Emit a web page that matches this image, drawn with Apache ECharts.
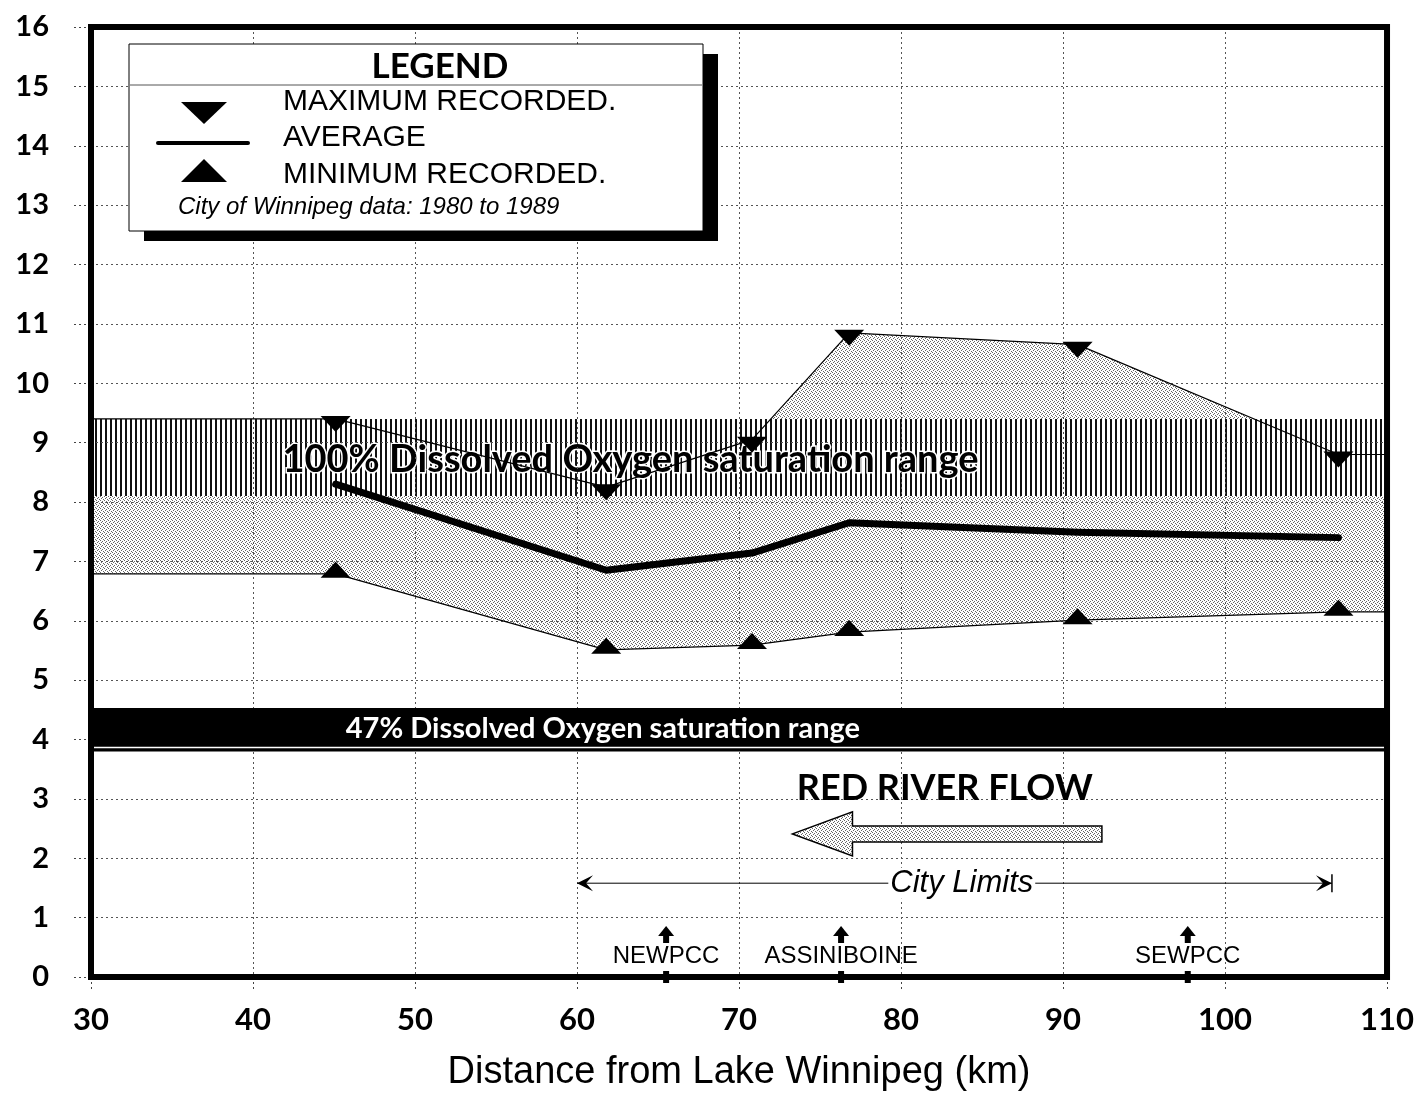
<!DOCTYPE html>
<html>
<head>
<meta charset="utf-8">
<script src="https://cdn.jsdelivr.net/npm/echarts@6/dist/echarts.min.js"></script>
<style>
  html, body { margin: 0; padding: 0; background: #fff; }
  #main { width: 1417px; height: 1097px; }
</style>
</head>
<body>
<div id="main"></div>
<script>
// sampling stations, km from Lake Winnipeg
var stations = [45.1, 61.8, 70.8, 76.8, 90.9, 107.0];
// dissolved oxygen (mg/L)
var maxDO = [9.40, 8.25, 9.05, 10.85, 10.65, 8.80];
var avgDO = [8.30, 6.85, 7.14, 7.65, 7.49, 7.40];
var minDO = [6.79, 5.51, 5.59, 5.81, 6.01, 6.15];
// saturation ranges [low, high]
var sat100 = [8.1, 9.4];
var sat47 = [3.8, 4.53];
// axis ticks
var xTicks = [30, 40, 50, 60, 70, 80, 90, 100, 110];
var yTicks = [0, 1, 2, 3, 4, 5, 6, 7, 8, 9, 10, 11, 12, 13, 14, 15, 16];
// outfalls along the river
var outfallNames = ['NEWPCC', 'ASSINIBOINE', 'SEWPCC'];
var outfallKm = [65.5, 76.3, 97.7];
// city limits, flow arrow (km)
var cityLimits = [60, 106.6];
var flowArrow = [73.3, 92.4];

(function () {
  var xMin = xTicks[0], xMax = xTicks[xTicks.length - 1];
  var BOLD = 'Lato';
  var PLAIN = 'Liberation Sans';

  // 点状填充
  function stipple() {
    var c = document.createElement('canvas');
    c.width = 4; c.height = 4;
    var g = c.getContext('2d');
    g.fillStyle = '#fff'; g.fillRect(0, 0, 4, 4);
    g.fillStyle = '#666';
    [[0, 0], [2, 1], [1, 2], [3, 3]].forEach(function (p) { g.fillRect(p[0], p[1], 1, 1); });
    return { image: c, repeat: 'repeat' };
  }
  // 竖线填充
  function hatch() {
    var c = document.createElement('canvas');
    c.width = 5; c.height = 5;
    var g = c.getContext('2d');
    g.fillStyle = '#fff'; g.fillRect(0, 0, 5, 5);
    g.fillStyle = '#111'; g.fillRect(0, 0, 2, 5);
    return { image: c, repeat: 'repeat' };
  }
  var dots = stipple();
  var lines = hatch();

  var maxPts = stations.map(function (x, i) { return [x, maxDO[i]]; });
  var avgPts = stations.map(function (x, i) { return [x, avgDO[i]]; });
  var minPts = stations.map(function (x, i) { return [x, minDO[i]]; });
  var last = stations.length - 1;
  var maxLine = [[xMin, maxDO[0]]].concat(maxPts, [[xMax, maxDO[last]]]);
  var minLine = [[xMin, minDO[0]]].concat(minPts, [[xMax, minDO[last]]]);

  var myChart = echarts.init(document.getElementById('main'));
  var option = {
    animation: false,
    backgroundColor: '#fff',
    grid: {
      left: 91, right: 25, top: 27, bottom: 120,
      show: true,
      backgroundColor: 'transparent',
      borderColor: '#000',
      borderWidth: 6,
      z: 10
    },
    xAxis: {
      type: 'value',
      min: xMin, max: xMax, interval: 10,
      z: 1,
      axisLine: { show: false },
      axisTick: { show: true, length: 12, lineStyle: { color: '#444', type: [2, 3] } },
      splitLine: { show: true, lineStyle: { color: '#555', width: 1, type: [2, 3] } },
      axisLabel: { color: '#000', fontSize: 31, fontWeight: 'bold', fontFamily: BOLD, margin: 27 },
      name: 'Distance from Lake Winnipeg (km)',
      nameLocation: 'middle',
      nameGap: 77,
      nameTextStyle: { color: '#000', fontSize: 38, fontFamily: PLAIN }
    },
    yAxis: {
      type: 'value',
      min: yTicks[0], max: yTicks[yTicks.length - 1], interval: 1,
      z: 1,
      axisLine: { show: false },
      axisTick: { show: true, length: 18, lineStyle: { color: '#444', type: [2, 3] } },
      splitLine: { show: true, lineStyle: { color: '#555', width: 1, type: [2, 3] } },
      axisLabel: { color: '#000', fontSize: 29, fontWeight: 'bold', fontFamily: BOLD, margin: 42 }
    },
    series: [
      // 最大与最小之间的点状区域
      {
        type: 'custom', z: 0, silent: true,
        data: [[xMin, 0]],
        renderItem: function (params, api) {
          var top = maxLine.map(function (p) { return api.coord(p); });
          var bottom = minLine.slice().reverse().map(function (p) { return api.coord(p); });
          return { type: 'polygon', shape: { points: top.concat(bottom) }, style: { fill: dots } };
        }
      },
      // 100% 饱和范围
      {
        type: 'custom', z: 0, silent: true,
        data: [[xMin, 0]],
        renderItem: function (params, api) {
          var a = api.coord([xMin, sat100[1]]);
          var b = api.coord([xMax, sat100[0]]);
          var t = api.coord([63.3, (sat100[0] + sat100[1]) / 2]);
          return {
            type: 'group',
            children: [
              { type: 'rect', shape: { x: a[0], y: a[1], width: b[0] - a[0], height: b[1] - a[1] }, style: { fill: lines } },
              { type: 'text', z2: 5, style: {
                text: '100% Dissolved Oxygen saturation range', x: t[0], y: t[1] + 2,
                align: 'center', verticalAlign: 'middle',
                fontSize: 38, fontWeight: 'bold', fontFamily: BOLD,
                fill: '#000', stroke: '#fff', lineWidth: 3
              } }
            ]
          };
        }
      },
      {
        name: 'MAXIMUM RECORDED.', type: 'line', data: maxLine, z: 2, silent: true,
        showSymbol: false, lineStyle: { color: '#000', width: 1.2 }
      },
      {
        name: 'MINIMUM RECORDED.', type: 'line', data: minLine, z: 2, silent: true,
        showSymbol: false, lineStyle: { color: '#000', width: 1.2 }
      },
      {
        name: 'AVERAGE', type: 'line', data: avgPts, z: 3, silent: true,
        showSymbol: false, lineStyle: { color: '#000', width: 7, cap: 'round', join: 'round' }
      },
      {
        type: 'scatter', data: maxPts, z: 4, silent: true,
        symbol: 'triangle', symbolRotate: 180, symbolSize: [30, 16], symbolOffset: [0, 5],
        itemStyle: { color: '#000', opacity: 1 }
      },
      {
        type: 'scatter', data: minPts, z: 4, silent: true,
        symbol: 'triangle', symbolSize: [30, 16], symbolOffset: [0, -4],
        itemStyle: { color: '#000', opacity: 1 }
      },
      // 47% 饱和范围
      {
        type: 'custom', z: 5, silent: true,
        data: [[xMin, 0]],
        renderItem: function (params, api) {
          var a = api.coord([xMin, sat47[1]]);
          var b = api.coord([xMax, sat47[0]]);
          var t = api.coord([61.6, (sat47[0] + sat47[1]) / 2]);
          return {
            type: 'group',
            children: [
              { type: 'rect', shape: { x: a[0], y: a[1], width: b[0] - a[0], height: b[1] - a[1] }, style: { fill: '#000' } },
              { type: 'line', shape: { x1: a[0], y1: b[1] - 4, x2: b[0], y2: b[1] - 4 }, style: { stroke: '#fff', lineWidth: 1.5 } },
              { type: 'text', z2: 5, style: {
                text: '47% Dissolved Oxygen saturation range', x: t[0], y: t[1] - 1,
                align: 'center', verticalAlign: 'middle',
                fontSize: 29, fontWeight: 'bold', fontFamily: BOLD, fill: '#fff'
              } }
            ]
          };
        }
      },
      // 河流方向与城市范围
      {
        type: 'custom', z: 5, silent: true,
        data: [[xMin, 0]],
        renderItem: function (params, api) {
          var title = api.coord([82.7, 3.17]);
          var tip = api.coord([flowArrow[0], 2.41]);
          var tail = api.coord([flowArrow[1], 2.41]);
          var cy = tip[1], hx = tip[0] + 60;
          var c0 = api.coord([cityLimits[0], 1.58]);
          var c1 = api.coord([cityLimits[1], 1.58]);
          var lbl = api.coord([83.75, 1.58]);
          return {
            type: 'group',
            children: [
              { type: 'text', style: {
                text: 'RED RIVER FLOW', x: title[0], y: title[1],
                align: 'center', verticalAlign: 'middle',
                fontSize: 36, fontWeight: 'bold', fontFamily: BOLD, fill: '#000'
              } },
              { type: 'polygon', shape: { points: [
                [tip[0], cy], [hx, cy - 22], [hx, cy - 8], [tail[0], cy - 8],
                [tail[0], cy + 8], [hx, cy + 8], [hx, cy + 22]
              ] }, style: { fill: dots, stroke: '#000', lineWidth: 1.5 } },
              { type: 'line', shape: { x1: c0[0], y1: c0[1], x2: c1[0], y2: c1[1] }, style: { stroke: '#000', lineWidth: 1 } },
              { type: 'polygon', shape: { points: [[c0[0], c0[1]], [c0[0] + 16, c0[1] - 8], [c0[0] + 9, c0[1]], [c0[0] + 16, c0[1] + 8]] }, style: { fill: '#000' } },
              { type: 'polygon', shape: { points: [[c1[0], c1[1]], [c1[0] - 16, c1[1] - 8], [c1[0] - 9, c1[1]], [c1[0] - 16, c1[1] + 8]] }, style: { fill: '#000' } },
              { type: 'line', shape: { x1: c1[0], y1: c1[1] - 9, x2: c1[0], y2: c1[1] + 9 }, style: { stroke: '#000', lineWidth: 1.5 } },
              { type: 'text', style: {
                text: 'City Limits', x: lbl[0], y: lbl[1],
                align: 'center', verticalAlign: 'middle',
                fontSize: 31, fontStyle: 'italic', fontFamily: PLAIN, fill: '#000',
                backgroundColor: '#fff', padding: [0, 2]
              } }
            ]
          };
        }
      },
      // 污水厂位置
      {
        type: 'custom', z: 5, silent: true,
        data: outfallKm.map(function (km, i) { return [km, 0, i]; }),
        renderItem: function (params, api) {
          var p = api.coord([api.value(0), 0]);
          var x = p[0], y = p[1];
          return {
            type: 'group',
            children: [
              { type: 'polygon', shape: { points: [[x, y - 51], [x + 8, y - 41], [x - 8, y - 41]] }, style: { fill: '#000' } },
              { type: 'rect', shape: { x: x - 3, y: y - 42, width: 6, height: 8 }, style: { fill: '#000' } },
              { type: 'rect', shape: { x: x - 3, y: y - 6, width: 6, height: 12 }, style: { fill: '#000' } },
              { type: 'text', style: {
                text: outfallNames[api.value(2)], x: x, y: y - 21,
                align: 'center', verticalAlign: 'middle',
                fontSize: 24, fontFamily: PLAIN, fill: '#000'
              } }
            ]
          };
        }
      }
    ],
    // 图例框
    graphic: [
      { type: 'rect', z: 20, shape: { x: 144, y: 54, width: 574, height: 187 }, style: { fill: '#000' } },
      { type: 'rect', z: 21, shape: { x: 129, y: 44, width: 574, height: 187 }, style: { fill: '#fff', stroke: '#000', lineWidth: 1 } },
      { type: 'line', z: 22, shape: { x1: 130, y1: 85, x2: 702, y2: 85 }, style: { stroke: '#555', lineWidth: 1 } },
      { type: 'text', z: 22, style: { text: 'LEGEND', x: 440, y: 67, align: 'center', verticalAlign: 'middle', fontSize: 35, fontWeight: 'bold', fontFamily: BOLD, fill: '#000' } },
      { type: 'polygon', z: 22, shape: { points: [[181, 102], [227, 102], [204, 124]] }, style: { fill: '#000' } },
      { type: 'line', z: 22, shape: { x1: 158, y1: 143, x2: 248, y2: 143 }, style: { stroke: '#000', lineWidth: 4, lineCap: 'round' } },
      { type: 'polygon', z: 22, shape: { points: [[181, 182], [227, 182], [204, 159]] }, style: { fill: '#000' } },
      { type: 'text', z: 22, style: { text: 'MAXIMUM RECORDED.', x: 283, y: 102, verticalAlign: 'middle', fontSize: 30, fontFamily: PLAIN, fill: '#000' } },
      { type: 'text', z: 22, style: { text: 'AVERAGE', x: 283, y: 138, verticalAlign: 'middle', fontSize: 30, fontFamily: PLAIN, fill: '#000' } },
      { type: 'text', z: 22, style: { text: 'MINIMUM RECORDED.', x: 283, y: 175, verticalAlign: 'middle', fontSize: 30, fontFamily: PLAIN, fill: '#000' } },
      { type: 'text', z: 22, style: { text: 'City of Winnipeg data: 1980 to 1989', x: 178, y: 207, verticalAlign: 'middle', fontSize: 24, fontStyle: 'italic', fontFamily: PLAIN, fill: '#000' } }
    ]
  };
  myChart.setOption(option);
  window.addEventListener('resize', function () {
    myChart.resize();
  });
})();
</script>
</body>
</html>
